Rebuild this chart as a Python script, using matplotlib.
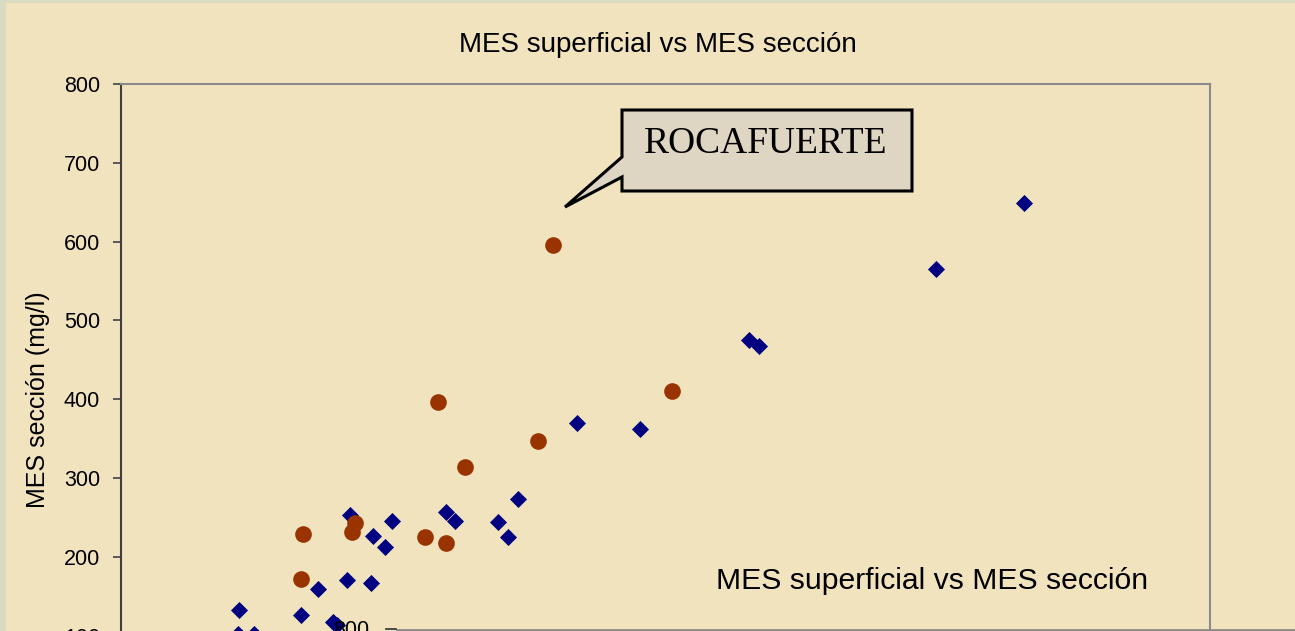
import matplotlib.pyplot as plt
from matplotlib.patches import Polygon, Rectangle
from matplotlib.lines import Line2D

# Datos: MES superficial (x) vs MES sección (y), mg/l
blue_x = [87, 86, 98, 132, 145, 156, 159, 166, 184, 168, 185, 194, 199,
          239, 245, 277, 284, 292, 335, 381, 461, 469, 599, 663]
blue_y = [132, 102, 102, 126, 159, 117, 113, 171, 167, 253, 226, 212, 245,
          257, 245, 244, 225, 273, 370, 362, 475, 468, 565, 649]

red_x = [134, 132, 170, 172, 223, 239, 233, 253, 306, 317, 405]
red_y = [229, 172, 232, 243, 225, 218, 397, 314, 347, 596, 410]

y_ticks = [0, 100, 200, 300, 400, 500, 600, 700, 800]

title = 'MES superficial vs MES sección'
ylabel = 'MES sección (mg/l)'
callout = 'ROCAFUERTE'

W, H = 1295, 631
bg = '#f2e3bf'

plt.rcParams['font.family'] = ['Liberation Sans', 'DejaVu Sans']

fig = plt.figure(figsize=(W / 100, H / 100), dpi=100)
fig.patch.set_facecolor(bg)


def fx(px):
    return px / W


def fy(py):
    return 1 - py / H


# marco verdoso a la izquierda / arriba
fig.patches.append(Rectangle((0, 0), fx(6), 1, transform=fig.transFigure,
                             facecolor='#d8dbbf', edgecolor='none', zorder=0))
fig.patches.append(Rectangle((0, fy(3)), 1, 3 / H, transform=fig.transFigure,
                             facecolor='#d8dbbf', edgecolor='none', zorder=0))

# eje principal (la parte inferior queda fuera de la imagen)
top = fy(84)
bottom = fy(84 + 800 * 0.788)
ax = fig.add_axes([fx(121), bottom, fx(1210) - fx(121), top - bottom])
ax.set_facecolor('none')

ax.scatter(blue_x, blue_y, marker='D', s=8.7 ** 2, color='#000080',
           linewidths=0, zorder=3, clip_on=False)
ax.scatter(red_x, red_y, marker='o', s=12 ** 2, color='#993300',
           linewidths=0, zorder=3, clip_on=False)

ax.set_xlim(0, 800)
ax.set_ylim(0, 800)
ax.set_yticks(y_ticks)
ax.set_xticks([])
ax.tick_params(axis='y', length=6, width=1.2, color='#404040', pad=9,
               labelsize=15.5, labelcolor='black')
ax.spines['left'].set_color('#404040')
ax.spines['left'].set_linewidth(1.5)
for s in ['top', 'right']:
    ax.spines[s].set_color('#8a8a8a')
    ax.spines[s].set_linewidth(1.5)
ax.spines['bottom'].set_visible(False)

ax.set_ylabel(ylabel, fontsize=18, labelpad=10)

fig.text(fx(658), fy(45), title, ha='center', va='center', fontsize=20)

# globo de texto ROCAFUERTE
pts = [(622, 110), (912, 110), (912, 191), (622, 191), (622, 177),
       (565, 207), (622, 157)]
fig.patches.append(Polygon([(fx(a), fy(b)) for a, b in pts], closed=True,
                           transform=fig.transFigure, facecolor='#ded6c3',
                           edgecolor='black', linewidth=2.2, zorder=5))
fig.text(fx(766), fy(144), callout, ha='center', va='center', fontsize=27,
         family=['Liberation Serif', 'DejaVu Serif'], zorder=6)

# segundo gráfico que asoma por abajo
fig.text(fx(932), fy(581), title, ha='center', va='center', fontsize=21.7, zorder=6)
fig.lines.append(Line2D([fx(397), 1], [fy(629.5), fy(629.5)],
                        transform=fig.transFigure, color='#8a8a8a', lw=2))
fig.lines.append(Line2D([fx(386), fx(396)], [fy(629), fy(629)],
                        transform=fig.transFigure, color='#303030', lw=1.2))
fig.text(fx(351), fy(620), '800', ha='center', va='top', fontsize=15.5, zorder=6)

fig.savefig('out.png', dpi=100, facecolor=fig.get_facecolor())
